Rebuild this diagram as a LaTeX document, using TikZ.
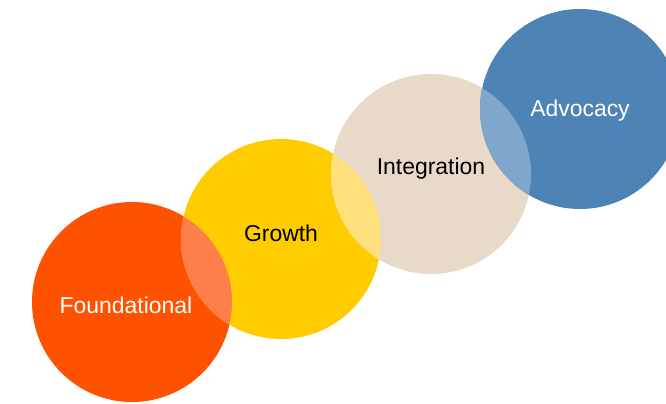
\documentclass[tikz,border=0pt]{standalone}
\usepackage{fontspec}
\setmainfont{Liberation Sans}
\usetikzlibrary{positioning}
\definecolor{foundcol}{HTML}{FF5200}
\definecolor{growcol}{HTML}{FFCC00}
\definecolor{integcol}{HTML}{E8D9C9}
\definecolor{advcol}{HTML}{4E83B5}
\definecolor{fgcol}{HTML}{FF7F4A}
\definecolor{gicol}{HTML}{FFE07C}
\definecolor{iacol}{HTML}{7FA6CB}

\begin{document}
\begin{tikzpicture}[x=0.75pt,y=0.75pt,font=\fontsize{17.2}{20}\selectfont,
  stage/.style={circle,inner sep=0pt,minimum size=150pt},
  word/.style={inner sep=0pt}]
\useasboundingbox (0,0) rectangle (666,403);
\node[stage,fill=foundcol] (found) at (132,101) {};
\node[stage,fill=growcol] (grow) at (281,164) {};
\node[stage,fill=integcol] (integ) at (431,229) {};
\node[stage,fill=advcol] (adv) at (580,294) {};
\begin{scope}
\clip (found.center) circle[radius=75pt];
\fill[fgcol] (grow.center) circle[radius=75pt];
\end{scope}
\begin{scope}
\clip (grow.center) circle[radius=75pt];
\fill[gicol] (integ.center) circle[radius=75pt];
\end{scope}
\begin{scope}
\clip (integ.center) circle[radius=75pt];
\fill[iacol] (adv.center) circle[radius=75pt];
\end{scope}
\node[word,text=white] (foundtxt) at (126,98) {Foundational};
\node[word] (growtxt) at (281,170) {Growth};
\node[word] (integtxt) at (431,234) {Integration};
\node[word,text=white] (advtxt) at (580,292) {Advocacy};
\end{tikzpicture}
\end{document}
